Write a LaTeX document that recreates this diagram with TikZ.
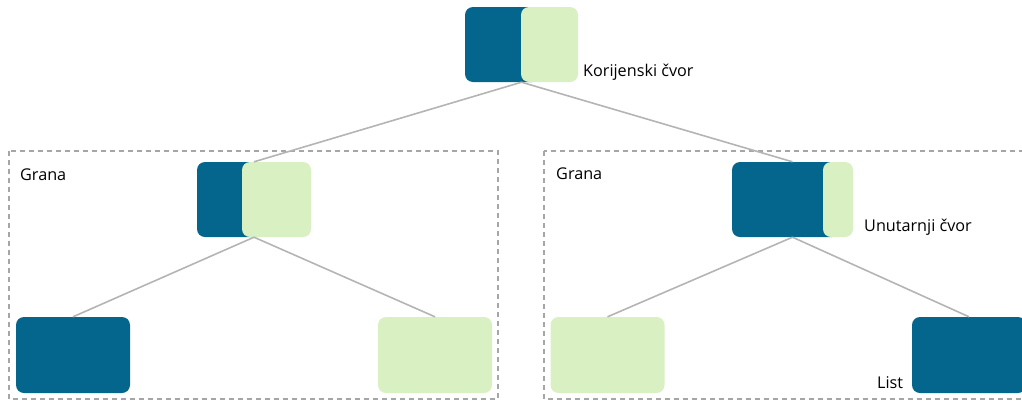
\documentclass[tikz,border=0pt]{standalone}
\usepackage{fontspec}
\setmainfont{Open Sans}
\usetikzlibrary{positioning}
\definecolor{nodeblue}{HTML}{05668D}
\definecolor{nodegreen}{HTML}{D9F0C3}
\definecolor{edgegray}{HTML}{B4B4B4}
\definecolor{framegray}{HTML}{A6A6A6}

\begin{document}
\begin{tikzpicture}[-,x=1pt,y=-1pt,
  group node/.style={rectangle,inner sep=0pt,minimum height=75pt},
  blue node/.style={rectangle,rounded corners=8pt,fill=nodeblue,inner sep=0pt,minimum height=75pt},
  green node/.style={rectangle,rounded corners=8pt,fill=nodegreen,inner sep=0pt,minimum height=75pt},
  leaf node/.style={minimum width=114pt,minimum height=76pt},
  text node/.style={inner sep=0pt,anchor=base west,font=\fontsize{16.2}{19}\selectfont},
  branch box/.style={draw=framegray,line width=1.5pt,dash pattern=on 5pt off 4pt}]
  \useasboundingbox (0,0) rectangle (1022,400);

  % branches
  \draw[branch box] (9,151) rectangle (498,399);
  \draw[branch box] (544,151) rectangle (1040,399);

  % root
  \node[group node,minimum width=113pt] (root) at (521.5,44.5) {};
  \node[blue node,minimum width=75pt,anchor=west] (root-b) at (root.west) {};
  \node[green node,minimum width=57pt,anchor=east] (root-g) at (root.east) {};

  % inner nodes
  \node[group node,minimum width=114pt] (left) at (254,199.5) {};
  \node[blue node,minimum width=65pt,anchor=west] (left-b) at (left.west) {};
  \node[green node,minimum width=69pt,anchor=east] (left-g) at (left.east) {};
  \node[group node,minimum width=121pt] (right) at (792.5,199.5) {};
  \node[blue node,minimum width=108pt,anchor=west] (right-b) at (right.west) {};
  \node[green node,minimum width=30pt,anchor=east] (right-g) at (right.east) {};

  % leaves
  \node[blue node,leaf node] (leaf1) at (73,355) {};
  \node[green node,leaf node] (leaf2) at (435,355) {};
  \node[green node,leaf node] (leaf3) at (607.5,355) {};
  \node[blue node,leaf node] (leaf4) at (969,355) {};

  % labels
  \node[text node] (root-t) at (583,76) {Korijenski čvor};
  \node[text node] (grana1) at (20,180) {Grana};
  \node[text node] (grana2) at (556,179) {Grana};
  \node[text node] (right-t) at (864,231) {Unutarnji čvor};
  \node[text node] (leaf4-t) at (877,388) {List};

  \path[every edge/.style={draw=edgegray,line width=1.6pt}]
    (root.south) edge (left.north)
    (root.south) edge (right.north)
    (left.south) edge (leaf1.north)
    (left.south) edge (leaf2.north)
    (right.south) edge (leaf3.north)
    (right.south) edge (leaf4.north);
\end{tikzpicture}
\end{document}
